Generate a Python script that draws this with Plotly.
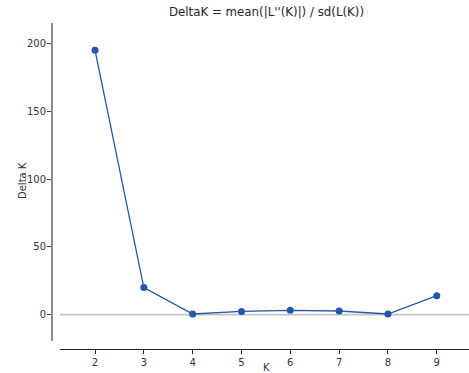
import plotly.graph_objects as go

# Evanno DeltaK per number of clusters K
k_values = [2, 3, 4, 5, 6, 7, 8, 9]
delta_k = [195.0, 20.0, 0.5, 2.4, 3.2, 2.7, 0.5, 14.0]

title_text = "DeltaK = mean(|L''(K)|) / sd(L(K))"
x_label = "K"
y_label = "Delta K"
y_tick_vals = [0, 50, 100, 150, 200]

W, H = 469, 373
ML, MR, MT, MB = 52, 0, 23, 24
plot_w = W - ML - MR
plot_h = H - MT - MB

line_color = "#2257ad"
text_color = "#333333"
font_family = "DejaVu Sans"


def px_x(px):
    """Pixel column -> paper x fraction."""
    return (px - ML) / plot_w


def px_y(py):
    """Pixel row -> paper y fraction."""
    return (H - MB - py) / plot_h


fig = go.Figure()
fig.add_trace(go.Scatter(
    x=k_values, y=delta_k, mode="lines+markers",
    line=dict(color=line_color, width=1.3),
    marker=dict(color=line_color, size=7),
    showlegend=False,
))

# horizontal reference at zero across the plotting region
fig.add_shape(type="line", xref="x domain", yref="y", x0=0, x1=1, y0=0, y1=0,
              line=dict(color="#c4c4c4", width=1.6), layer="below")

# chart title and axis labels
fig.add_annotation(text=title_text, xref="paper", yref="paper",
                   x=px_x(266.5), y=px_y(12), xanchor="center", yanchor="middle",
                   showarrow=False,
                   font=dict(size=11.8, color="#262626", family=font_family))
fig.add_annotation(text=x_label, xref="paper", yref="paper",
                   x=px_x(266), y=px_y(367.5), xanchor="center", yanchor="middle",
                   showarrow=False,
                   font=dict(size=10, color=text_color, family=font_family))
fig.add_annotation(text=y_label, xref="paper", yref="paper", textangle=-90,
                   x=px_x(22), y=px_y(181), xanchor="center", yanchor="middle",
                   showarrow=False,
                   font=dict(size=10, color=text_color, family=font_family))

fig.update_layout(
    width=W, height=H,
    margin=dict(l=ML, r=MR, t=MT, b=MB, pad=0, autoexpand=False),
    paper_bgcolor="white", plot_bgcolor="white",
    font=dict(family=font_family, size=10, color=text_color),
    xaxis=dict(
        domain=[8 / plot_w, 1], anchor="free", position=0, automargin=False,
        range=[1.283, 9.66], tickvals=k_values,
        showgrid=False, zeroline=False,
        showline=True, linecolor="#222222", linewidth=1.2,
        ticks="outside", ticklen=4, tickcolor="#222222",
        tickfont=dict(size=10, color=text_color, family=font_family),
    ),
    yaxis=dict(
        domain=[(349.3 - 341.7) / plot_h, 1], anchor="free", position=0, automargin=False,
        range=[-19.7, 215], tickvals=y_tick_vals,
        showgrid=False, zeroline=False,
        showline=True, linecolor="#8a8a8a", linewidth=2,
        ticks="outside", ticklen=4, tickcolor="#444444", ticklabelstandoff=-1,
        tickfont=dict(size=10, color=text_color, family=font_family),
    ),
)

fig.write_html("out.html")
